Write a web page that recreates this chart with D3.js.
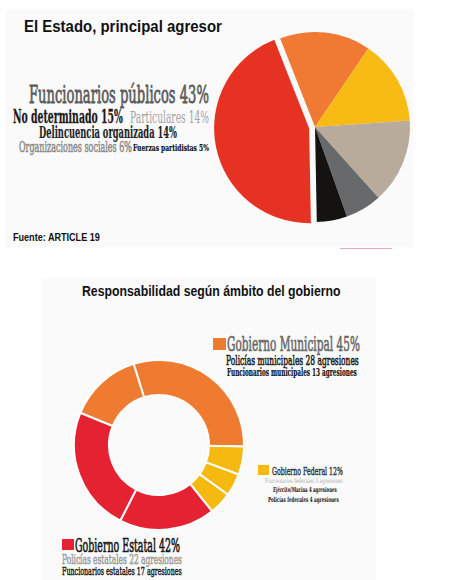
<!DOCTYPE html>
<html>
<head>
  <meta charset="utf-8">
  <title>El Estado, principal agresor</title>
  <script src="https://d3js.org/d3.v7.min.js"></script>
  <style>
    body, html {
      margin: 0;
      padding: 0;
      background: #ffffff;
    }
    .sans { font-family: "Liberation Sans", Arial, sans-serif; }
    .cond { font-family: "DejaVu Serif", "Liberation Serif", serif; }
  </style>
</head>
<body>
  <div id="chart"></div>

  <script>
    // top pie: who attacks
    const agresores = ["No determinado", "Particulares", "Delincuencia organizada", "Organizaciones sociales", "Fuerzas partidistas", "Funcionarios públicos"]
    const agresorPct = [15, 14, 14, 6, 5, 43]
    const agresorColors = ["#f07a34", "#f7bb13", "#b9ab9c", "#68696a", "#151311", "#e63223"]

    // bottom donut: level of government
    const ambitos = ["Gobierno Municipal", "Gobierno Federal", "Gobierno Estatal"]
    const ambitoPct = [45, 12, 42]
    const ambitoColors = ["#ef7b31", "#f5b90f", "#e52232"]
    const responsables = ["Policías municipales", "Funcionarios federales", "Ejército/Marina", "Policías federales", "Funcionarios estatales", "Policías estatales", "Funcionarios municipales"]
    const agresiones = [28, 5, 4, 4, 17, 22, 13]
    const responsableAmbito = [0, 1, 1, 1, 2, 2, 0]

    const W = 460, H = 580
    const svg = d3.select('#chart').append('svg')
      .attr('width', W)
      .attr('height', H)

    // faint panels behind both graphics
    svg.append('rect').attr('x', 5).attr('y', 10).attr('width', 408).attr('height', 237).attr('fill', '#fafafa')
    svg.append('rect').attr('x', 42).attr('y', 278).attr('width', 334).attr('height', 302).attr('fill', '#fafafa')

    // text squeezed horizontally to a given width (condensed look)
    function label(x, y, txt, size, width, color, opts) {
      opts = opts || {}
      const g = svg.append('g')
      const t = g.append('text')
        .attr('class', opts.cls || 'cond')
        .attr('font-size', size)
        .attr('font-weight', opts.bold ? 'bold' : 'normal')
        .attr('fill', color)
        .text(txt)
      if (opts.thick) {
        t.attr('stroke', color).attr('stroke-width', opts.thick)
      }
      const natural = t.node().getComputedTextLength()
      g.attr('transform', `translate(${x},${y}) scale(${width / natural},1)`)
      return t
    }

    //Top Title
    label(24, 32, 'El Estado, principal agresor', 16, 198, '#111', { cls: 'sans', bold: true })
    label(13, 241, 'Fuente: ARTICLE 19', 10.5, 87, '#111', { cls: 'sans', bold: true })
    svg.append('line').attr('x1', 340).attr('x2', 392).attr('y1', 248.5).attr('y2', 248.5)
      .attr('stroke', '#eea6cf').attr('stroke-width', 1.2)

    // ---- pie ----
    const pieStart = -21.5 * Math.PI / 180
    const pie = d3.pie().sort(null).value(d => d)
      .startAngle(pieStart).endAngle(pieStart + 2 * Math.PI)
    const arc = d3.arc().innerRadius(0).outerRadius(95)
    const pieG = svg.append('g').attr('transform', 'translate(315,127)')
    pieG.selectAll('path')
      .data(pie(agresorPct))
      .enter()
      .append('path')
      .attr('d', arc)
      .attr('fill', (d, i) => agresorColors[i])
      .attr('transform', (d, i) => {
        if (agresores[i] !== 'Funcionarios públicos') return null
        const mid = (d.startAngle + d.endAngle) / 2
        return `translate(${6 * Math.sin(mid)},${-6 * Math.cos(mid)})`
      })

    // pie labels: [index, x, baseline, size, width, color, bold, thick]
    const pieLabels = [
      [5, 29, 103, 24, 180, '#5a5a5a', false, 0.8],
      [0, 13, 123, 18.5, 110, '#1a1a1a', true, 0.3],
      [1, 130, 123, 17.5, 79, '#a3a3a3', false, 0],
      [2, 39, 138, 17, 138, '#1e1e1e', true, 0.2],
      [3, 19, 152, 15.5, 113, '#8a8a8a', false, 0.6],
      [4, 133, 151, 10, 76, '#111111', true, 0.2]
    ]
    pieLabels.forEach(p => {
      label(p[1], p[2], `${agresores[p[0]]} ${agresorPct[p[0]]}%`, p[3], p[4], p[5], { bold: p[6], thick: p[7] })
    })

    // ---- donut ----
    label(82, 296, 'Responsabilidad según ámbito del gobierno', 14, 259, '#111', { cls: 'sans', bold: true })

    const donutStart = -17.4 * Math.PI / 180
    const donut = d3.pie().sort(null).value(d => d)
      .startAngle(donutStart).endAngle(donutStart + 2 * Math.PI)
    const ring = d3.arc().innerRadius(50).outerRadius(85)
    const donutG = svg.append('g').attr('transform', 'translate(159,445)')
    donutG.selectAll('path')
      .data(donut(agresiones))
      .enter()
      .append('path')
      .attr('d', ring)
      .attr('fill', (d, i) => ambitoColors[responsableAmbito[i]])
      .attr('stroke', '#ffffff')
      .attr('stroke-width', 2)

    // legend blocks
    const legendHead = [
      // square x, y, w, h, text x, baseline, size, width, color, thick
      [213, 338, 13, 12, 227, 351, 21, 133, '#686868', 0.7],
      [258, 465, 11, 10, 272, 475, 11.5, 71, '#2a2a2a', 0.4],
      [62, 539, 12, 11, 75, 552, 19, 105, '#151515', 0.7]
    ]
    legendHead.forEach((h, g) => {
      svg.append('rect').attr('x', h[0]).attr('y', h[1]).attr('width', h[2]).attr('height', h[3])
        .attr('fill', ambitoColors[g])
      label(h[4], h[5], `${ambitos[g]} ${ambitoPct[g]}%`, h[6], h[7], h[8], { thick: h[9] })
    })

    // detail lines: [responsable index, x, baseline, size, width, color, bold, thick]
    const legendLines = [
      [0, 226, 365, 13.5, 133, '#1e1e1e', false, 0.6],
      [6, 227, 376, 11, 130, '#111111', true, 0.2],
      [1, 265, 483, 6.5, 78, '#aaaaaa', false, 0],
      [2, 273, 492, 7, 64, '#111111', true, 0],
      [3, 268, 502, 7, 71, '#111111', true, 0],
      [5, 62, 564, 13.5, 120, '#999999', false, 0.5],
      [4, 62, 575, 11, 120, '#1e1e1e', false, 0.5]
    ]
    legendLines.forEach(l => {
      label(l[1], l[2], `${responsables[l[0]]} ${agresiones[l[0]]} agresiones`, l[3], l[4], l[5], { bold: l[6], thick: l[7] })
    })
  </script>
</body>
</html>
